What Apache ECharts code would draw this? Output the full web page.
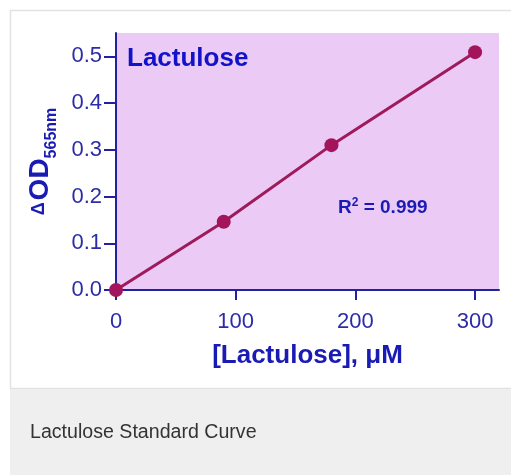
<!DOCTYPE html>
<html>
<head>
<meta charset="utf-8">
<script src="https://cdn.jsdelivr.net/npm/echarts@6/dist/echarts.min.js"></script>
<style>
html,body{margin:0;padding:0;background:#fff;}
#c{width:511px;height:475px;}
</style>
</head>
<body>
<div id="c"></div>
<script>
// ---- data ----
const concentrations = [0, 90, 180, 300];        // [Lactulose], µM
const deltaOD = [0.0, 0.146, 0.31, 0.509];        // ΔOD565nm
const xTicks = [0, 100, 200, 300];
const yTicks = [0.0, 0.1, 0.2, 0.3, 0.4, 0.5];
const chartLabel = 'Lactulose';
const r2Text = '0.999';
const caption = 'Lactulose Standard Curve';

const points = concentrations.map((c, i) => [c, deltaOD[i]]);
const tickColor = '#2c2ca8';
const nameColor = '#1a1ab4';
const axisColor = '#2222a0';
const font = '"Liberation Sans", Arial, sans-serif';

const chart = echarts.init(document.getElementById('c'), null, {renderer: 'canvas'});
chart.setOption({
  animation: false,
  backgroundColor: '#ffffff',
  graphic: [
    {type: 'rect', z: -10, shape: {x: 10.5, y: 10.5, width: 520, height: 378}, style: {fill: '#ffffff', stroke: '#e2e2e2', lineWidth: 1.5}},
    {type: 'rect', z: -10, shape: {x: 10, y: 389, width: 520, height: 100}, style: {fill: '#eeefee'}},
    {type: 'text', z: 10, x: 30, y: 433, style: {text: caption, font: '19.6px ' + font, fill: '#333333', verticalAlign: 'middle'}}
  ],
  title: [
    {text: chartLabel, left: 127, top: 46, padding: 0,
     textStyle: {fontFamily: font, fontSize: 26, fontWeight: 'bold', color: '#1212c8'}},
    {text: 'R{sup|2} = ' + r2Text, left: 338, top: 197, padding: 0,
     textStyle: {fontFamily: font, fontSize: 19, fontWeight: 'bold', color: nameColor,
       rich: {sup: {fontFamily: font, fontSize: 12, fontWeight: 'bold', color: nameColor, verticalAlign: 'top', padding: [0, 0, 9, 0]}}}}
  ],
  grid: {left: 116, right: 12, top: 33, bottom: 185, show: true, backgroundColor: '#ebcaf5', borderWidth: 0},
  xAxis: {
    type: 'value', min: 0, max: 320,
    name: '[Lactulose], μM', nameLocation: 'middle', nameGap: 53,
    nameTextStyle: {fontFamily: font, fontSize: 26, fontWeight: 'bold', color: nameColor},
    axisLine: {show: true, lineStyle: {color: axisColor, width: 2}},
    axisTick: {show: true, length: 10, lineStyle: {color: axisColor, width: 2}, customValues: xTicks},
    axisLabel: {fontFamily: font, fontSize: 22, color: tickColor, margin: 21, customValues: xTicks},
    splitLine: {show: false}
  },
  yAxis: {
    type: 'value', min: 0, max: 0.55,
    name: '{d|Δ}{od|OD}{sub|565nm}', nameLocation: 'middle', nameGap: 62, nameRotate: 90,
    nameTextStyle: {fontFamily: font, fontWeight: 'bold', color: nameColor,
      rich: {
        d: {fontFamily: font, fontSize: 18, fontWeight: 'bold', color: nameColor, verticalAlign: 'top', padding: [4, 2, 0, 0]},
        od: {fontFamily: font, fontSize: 28, fontWeight: 'bold', color: nameColor, verticalAlign: 'bottom'},
        sub: {fontFamily: font, fontSize: 16, fontWeight: 'bold', color: nameColor, verticalAlign: 'bottom', padding: [0, 0, -6, 0]}
      }},
    axisLine: {show: true, lineStyle: {color: axisColor, width: 2}},
    axisTick: {show: true, length: 12, lineStyle: {color: axisColor, width: 2}, customValues: yTicks},
    axisLabel: {fontFamily: font, fontSize: 22, color: tickColor, margin: 14, customValues: yTicks,
      formatter: v => v.toFixed(1)},
    splitLine: {show: false}
  },
  series: [{
    type: 'line', data: points, symbol: 'circle', symbolSize: 14,
    lineStyle: {color: '#9e1a5a', width: 3},
    itemStyle: {color: '#a3145a'},
    clip: false
  }]
});
</script>
</body>
</html>
